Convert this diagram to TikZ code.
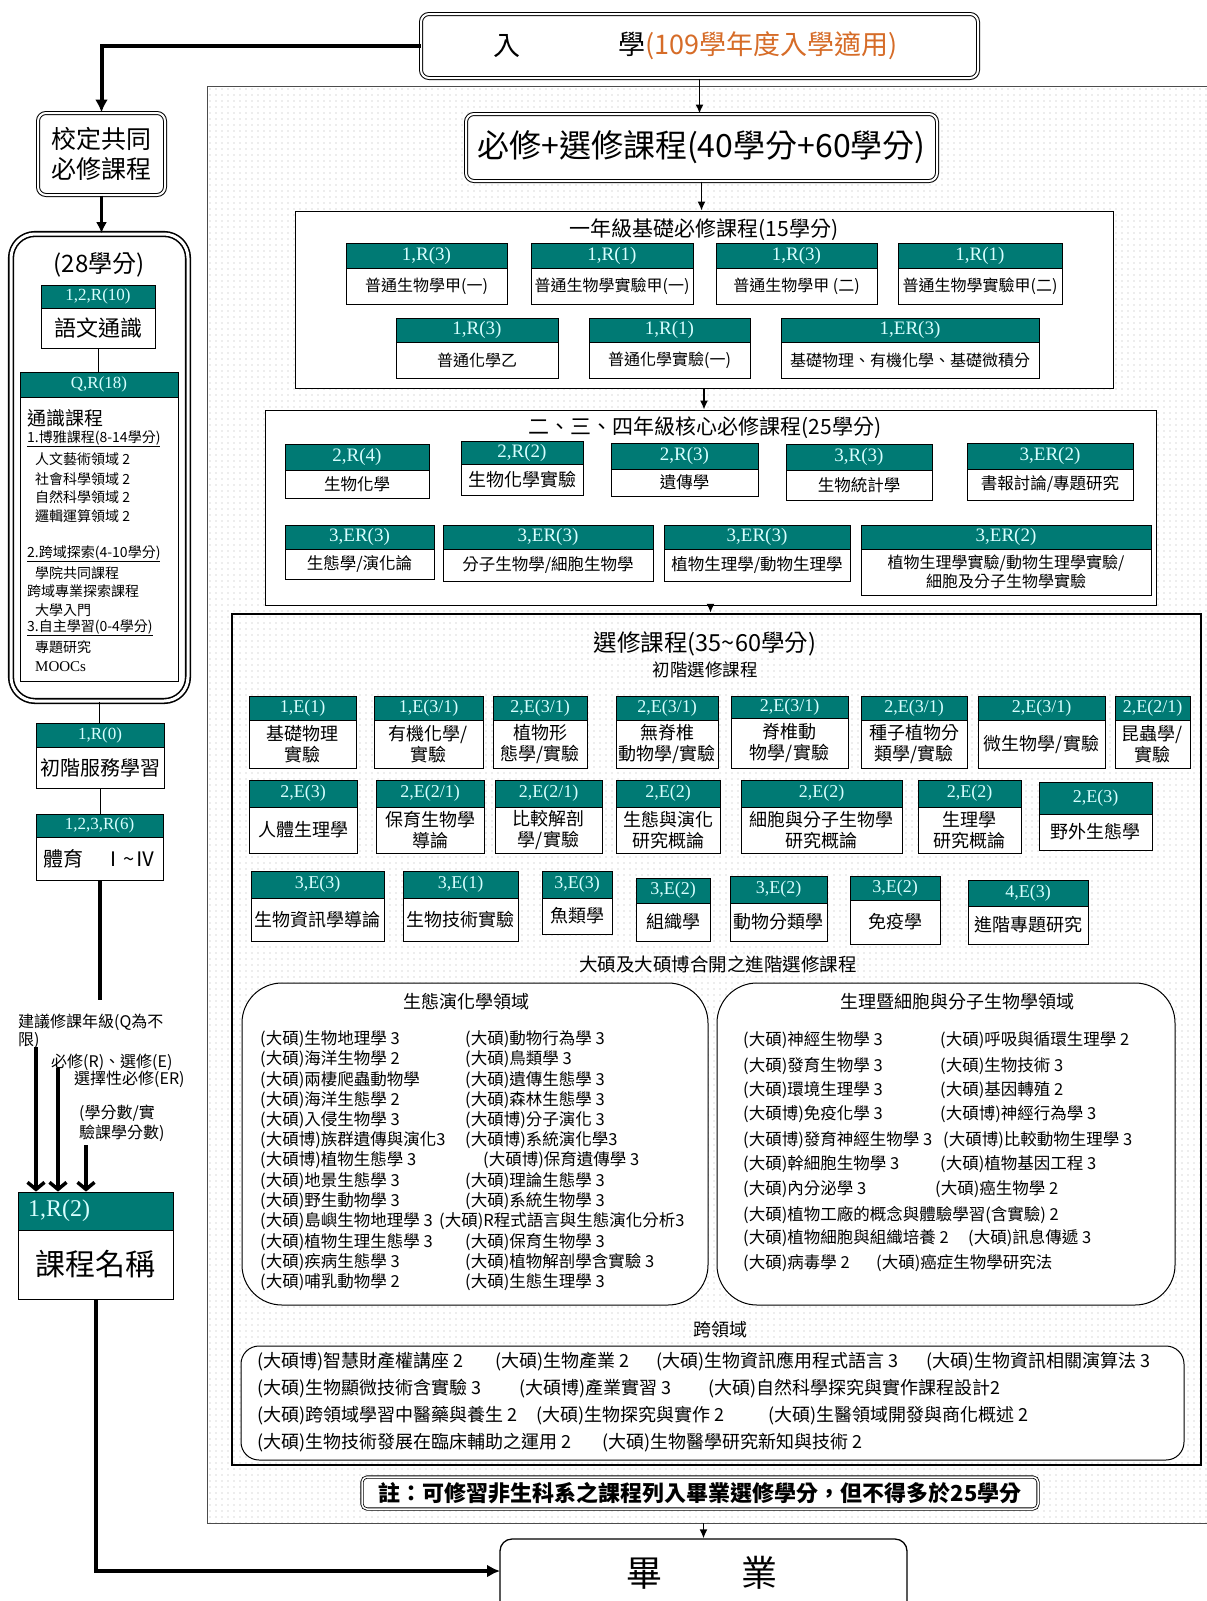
\documentclass[tikz,border=0pt]{standalone}
\usepackage{fontspec}
\setmainfont{Noto Sans CJK TC}
\newfontfamily\tnr{Liberation Serif}
\usetikzlibrary{arrows.meta,patterns.meta}
\definecolor{tealh}{RGB}{0,122,116}
\definecolor{htext}{RGB}{215,255,255}
\definecolor{orng}{RGB}{214,108,40}
\newcommand\fs[1]{\fontsize{#1}{\fpeval{1.2*#1}}\selectfont}
\newcommand\mkrect[7]{\node[#1,minimum width={#5-#3},minimum height={#6-#4}] (#2) at ({(#3+#5)/2},{(#4+#6)/2}) {#7};}
\newcommand\mkcourse[9]{%
  \mkrect{hdr}{#1h}{#2}{#3}{#4}{#5}{#7}
  \mkrect{bodyst,font=\fs{#9}}{#1b}{#2}{#5}{#4}{#6}{#8}}
\def\hsz{19}
\tikzset{
  hdr/.style={draw=black,fill=tealh,text=htext,inner sep=0pt,font=\tnr\fs{\hsz},line width=0.8pt},
  bodyst/.style={draw=black,fill=white,inner sep=0pt,align=center,line width=0.8pt},
  rbox/.style={draw=black,fill=white,inner sep=0pt,line width=0.9pt},
  dblbox/.style={draw=black,double=white,double distance=2pt,line width=1pt,rounded corners=8pt,fill=white,inner sep=0pt},
  panelst/.style={draw=black!70,line width=0.8pt,inner sep=0pt,pattern={Dots[distance=6pt,radius=0.55pt]},pattern color=black!30},
  elst/.style={draw=black,line width=2.5pt,inner sep=0pt},
  domst/.style={draw=black,line width=1pt,rounded corners=40pt,fill=white,inner sep=0pt},
  crst/.style={draw=black,line width=1pt,rounded corners=18pt,fill=white,inner sep=0pt},
  ttl/.style={inner sep=0pt,font=\fs{21}},
  itm/.style={anchor=west,inner sep=0pt,font=\fs{16.5}},
  citm/.style={anchor=west,inner sep=0pt,font=\fs{18}},
  qs/.style={anchor=west,inner sep=0pt,font=\fs{14}},
  lg/.style={anchor=west,inner sep=0pt,font=\fs{16}},
  arr/.style={line width=1.5pt,-{Latex[length=9pt,width=8pt]}},
  tl/.style={line width=4pt},
  tarr/.style={line width=4pt,-{Latex[length=13pt,width=13pt]}},
  larr/.style={line width=3.5pt,-{Straight Barb[length=7pt,width=17pt]}},
  thin/.style={line width=0.9pt}
}
\begin{document}
\begin{tikzpicture}[x=1pt,y=-1pt]
\useasboundingbox (0,0) rectangle (1207,1601);
\fill[white] (0,0) rectangle (1207,1601);

% background panel
\mkrect{panelst}{panel}{207}{86}{1215}{1523}{}

% top
\mkrect{dblbox}{enter}{421}{14}{978}{78}{}
\node[font=\fs{27},inner sep=0pt] (enterA) at (507,46) {入};
\node[anchor=west,font=\fs{27},inner sep=0pt] (enterB) at (618,46) {學\textcolor{orng}{(109學年度入學適用)}};

\mkrect{dblbox,font=\fs{32}}{req}{466}{114}{937}{181}{必修+選修課程(40學分+60學分)}
\draw[arr] (enter.south) -- (enter.south |- req.north);

% first year
\mkrect{rbox}{fy}{295}{211}{1113}{388}{}
\node[ttl] (fyt) at (704,230) {一年級基礎必修課程(15學分)};
\draw[arr] (req.south) -- (req.south |- fy.north);
\mkcourse{fa}{346}{243}{507}{268}{304}{1,R(3)}{普通生物學甲(一)}{16}
\mkcourse{fb}{531}{243}{693}{268}{304}{1,R(1)}{普通生物學實驗甲(一)}{16}
\mkcourse{fc}{716}{243}{877}{268}{304}{1,R(3)}{普通生物學甲 (二)}{16}
\mkcourse{fd}{898}{243}{1062}{268}{304}{1,R(1)}{普通生物學實驗甲(二)}{16}
\mkcourse{fe}{396}{318}{558}{342}{378}{1,R(3)}{普通化學乙}{16}
\mkcourse{ff}{589}{318}{750}{342}{378}{1,R(1)}{普通化學實驗(一)}{16}
\mkcourse{fg}{781}{318}{1039}{342}{378}{1,ER(3)}{基礎物理、有機化學、基礎微積分}{16}

% core
\mkrect{rbox}{core}{265}{410}{1156}{605}{}
\node[ttl] (coret) at (705,428) {二、三、四年級核心必修課程(25學分)};
\draw[arr] (fy.south) -- (fy.south |- core.north);
\mkcourse{ca}{285}{444}{429}{470}{498}{2,R(4)}{生物化學}{16.5}
\mkcourse{cb}{461}{441}{583}{464}{495}{2,R(2)}{生物化學實驗}{18}
\mkcourse{cc}{611}{443}{758}{469}{496}{2,R(3)}{遺傳學}{16.5}
\mkcourse{cd}{786}{444}{932}{470}{500}{3,R(3)}{生物統計學}{16.5}
\mkcourse{ce}{967}{443}{1133}{469}{500}{3,ER(2)}{書報討論/專題研究}{16.5}
\mkcourse{cf}{285}{525}{434}{549}{579}{3,ER(3)}{生態學/演化論}{16.5}
\mkcourse{cg}{443}{525}{653}{549}{581}{3,ER(3)}{分子生物學/細胞生物學}{16.5}
\mkcourse{ch}{664}{525}{850}{549}{581}{3,ER(3)}{植物生理學/動物生理學}{16.5}
\mkcourse{ci}{861}{525}{1151}{549}{595}{3,ER(2)}{植物生理學實驗/動物生理學實驗/\\細胞及分子生物學實驗}{16}

% electives
\mkrect{elst}{elec}{232}{614}{1201}{1465}{}
\draw[arr] (core.south) -- (core.south |- elec.north);
\node[inner sep=0pt,font=\fs{23.5}] (elt) at (705,644) {選修課程(35\textasciitilde60學分)};
\node[inner sep=0pt,font=\fs{17.5}] (elt2) at (705,670) {初階選修課程};
\def\hsz{18}
\mkcourse{ea}{249}{696}{356}{720}{768}{1,E(1)}{基礎物理\\實驗}{18}
\mkcourse{eb}{374}{696}{483}{720}{768}{1,E(3/1)}{有機化學/\\實驗}{18}
\mkcourse{ec}{493}{696}{587}{720}{768}{2,E(3/1)}{植物形\\態學/實驗}{18}
\mkcourse{ed}{616}{696}{718}{720}{768}{2,E(3/1)}{無脊椎\\動物學/實驗}{18}
\mkcourse{ee}{731}{696}{848}{718}{768}{2,E(3/1)}{脊椎動\\物學/實驗}{18}
\mkcourse{ef}{861}{696}{967}{720}{768}{2,E(3/1)}{種子植物分\\類學/實驗}{18}
\mkcourse{eg}{978}{696}{1105}{720}{768}{2,E(3/1)}{微生物學/實驗}{18}
\mkcourse{eh}{1115}{696}{1190}{720}{768}{2,E(2/1)}{昆蟲學/\\實驗}{18}
\mkcourse{ei}{249}{780}{357}{807}{853}{2,E(3)}{人體生理學}{18}
\mkcourse{ej}{376}{780}{484}{807}{853}{2,E(2/1)}{保育生物學\\導論}{18}
\mkcourse{ek}{495}{780}{602}{807}{853}{2,E(2/1)}{比較解剖\\學/實驗}{18}
\mkcourse{el}{616}{780}{720}{807}{853}{2,E(2)}{生態與演化\\研究概論}{18}
\mkcourse{em}{741}{780}{902}{807}{853}{2,E(2)}{細胞與分子生物學\\研究概論}{18}
\mkcourse{en}{918}{780}{1021}{807}{853}{2,E(2)}{生理學\\研究概論}{18}
\mkcourse{eo}{1039}{782}{1152}{814}{850}{2,E(3)}{野外生態學}{18}
\mkcourse{ep}{251}{871}{384}{898}{941}{3,E(3)}{生物資訊學導論}{18}
\mkcourse{eq}{403}{871}{518}{898}{941}{3,E(1)}{生物技術實驗}{18}
\mkcourse{er}{542}{871}{612}{898}{934}{3,E(3)}{魚類學}{18}
\mkcourse{es}{636}{878}{710}{903}{941}{3,E(2)}{組織學}{18}
\mkcourse{et}{730}{876}{827}{903}{941}{3,E(2)}{動物分類學}{18}
\mkcourse{eu}{850}{876}{940}{900}{944}{3,E(2)}{免疫學}{18}
\mkcourse{ev}{968}{880}{1088}{906}{944}{4,E(3)}{進階專題研究}{18}
\node[inner sep=0pt,font=\fs{18.5}] (adv) at (718,964) {大碩及大碩博合開之進階選修課程};

% ecology domain
\mkrect{domst}{eco}{242}{983}{708}{1305}{}
\node[inner sep=0pt,font=\fs{18}] (ecot) at (466,1002) {生態演化學領域};
\node[itm] (ea1) at (260,1039) {(大碩)生物地理學 3};
\node[itm] (ea2) at (260,1059) {(大碩)海洋生物學 2};
\node[itm] (ea3) at (260,1080) {(大碩)兩棲爬蟲動物學};
\node[itm] (ea4) at (260,1100) {(大碩)海洋生態學 2};
\node[itm] (ea5) at (260,1120) {(大碩)入侵生物學 3};
\node[itm] (ea6) at (260,1140) {(大碩博)族群遺傳與演化3};
\node[itm] (ea7) at (260,1160) {(大碩博)植物生態學 3};
\node[itm] (ea8) at (260,1181) {(大碩)地景生態學 3};
\node[itm] (ea9) at (260,1201) {(大碩)野生動物學 3};
\node[itm] (ea10) at (260,1221) {(大碩)島嶼生物地理學 3};
\node[itm] (ea11) at (260,1242) {(大碩)植物生理生態學 3};
\node[itm] (ea12) at (260,1262) {(大碩)疾病生態學 3};
\node[itm] (ea13) at (260,1282) {(大碩)哺乳動物學 2};
\node[itm] (eb1) at (465,1039) {(大碩)動物行為學 3};
\node[itm] (eb2) at (465,1059) {(大碩)鳥類學 3};
\node[itm] (eb3) at (465,1080) {(大碩)遺傳生態學 3};
\node[itm] (eb4) at (465,1100) {(大碩)森林生態學 3};
\node[itm] (eb5) at (465,1120) {(大碩博)分子演化 3};
\node[itm] (eb6) at (465,1140) {(大碩博)系統演化學3};
\node[itm] (eb7) at (483,1160) {(大碩博)保育遺傳學 3};
\node[itm] (eb8) at (465,1181) {(大碩)理論生態學 3};
\node[itm] (eb9) at (465,1201) {(大碩)系統生物學 3};
\node[itm] (eb10) at (439,1221) {(大碩)R程式語言與生態演化分析3};
\node[itm] (eb11) at (465,1242) {(大碩)保育生物學 3};
\node[itm] (eb12) at (465,1262) {(大碩)植物解剖學含實驗 3};
\node[itm] (eb13) at (465,1282) {(大碩)生態生理學 3};

% physiology domain
\mkrect{domst}{phy}{717}{983}{1175}{1305}{}
\node[inner sep=0pt,font=\fs{18}] (phyt) at (957,1002) {生理暨細胞與分子生物學領域};
\node[itm] (pa1) at (743,1040) {(大碩)神經生物學 3};
\node[itm] (pa2) at (743,1066) {(大碩)發育生物學 3};
\node[itm] (pa3) at (743,1090) {(大碩)環境生理學 3};
\node[itm] (pa4) at (743,1114) {(大碩博)免疫化學 3};
\node[itm] (pa5) at (743,1140) {(大碩博)發育神經生物學 3};
\node[itm] (pa6) at (743,1164) {(大碩)幹細胞生物學 3};
\node[itm] (pa7) at (743,1189) {(大碩)內分泌學 3};
\node[itm] (pa8) at (743,1215) {(大碩)植物工廠的概念與體驗學習(含實驗) 2};
\node[itm] (pa9) at (743,1238) {(大碩)植物細胞與組織培養 2};
\node[itm] (pa10) at (743,1263) {(大碩)病毒學 2};
\node[itm] (pb1) at (940,1040) {(大碩)呼吸與循環生理學 2};
\node[itm] (pb2) at (940,1066) {(大碩)生物技術 3};
\node[itm] (pb3) at (940,1090) {(大碩)基因轉殖 2};
\node[itm] (pb4) at (940,1114) {(大碩博)神經行為學 3};
\node[itm] (pb5) at (943,1140) {(大碩博)比較動物生理學 3};
\node[itm] (pb6) at (940,1164) {(大碩)植物基因工程 3};
\node[itm] (pb7) at (935,1189) {(大碩)癌生物學 2};
\node[itm] (pb9) at (968,1238) {(大碩)訊息傳遞 3};
\node[itm] (pb10) at (876,1263) {(大碩)癌症生物學研究法};

% cross domain
\node[inner sep=0pt,font=\fs{18}] (crt) at (720,1330) {跨領域};
\mkrect{crst}{cross}{241}{1346}{1184}{1460}{}
\node[citm] (x1) at (257,1362) {(大碩博)智慧財產權講座 2};
\node[citm] (x2) at (495,1362) {(大碩)生物產業 2};
\node[citm] (x3) at (656,1362) {(大碩)生物資訊應用程式語言 3};
\node[citm] (x4) at (926,1362) {(大碩)生物資訊相關演算法 3};
\node[citm] (x5) at (257,1389) {(大碩)生物顯微技術含實驗 3};
\node[citm] (x6) at (519,1389) {(大碩博)產業實習 3};
\node[citm] (x7) at (708,1389) {(大碩)自然科學探究與實作課程設計2};
\node[citm] (x8) at (257,1416) {(大碩)跨領域學習中醫藥與養生 2};
\node[citm] (x9) at (536,1416) {(大碩)生物探究與實作 2};
\node[citm] (x10) at (768,1416) {(大碩)生醫領域開發與商化概述 2};
\node[citm] (x11) at (257,1443) {(大碩)生物技術發展在臨床輔助之運用 2};
\node[citm] (x12) at (602,1443) {(大碩)生物醫學研究新知與技術 2};

% note
\mkrect{dblbox,rounded corners=5pt,double distance=1.5pt,line width=0.8pt,font=\fs{22}\bfseries}{note}{362}{1477}{1038}{1509}{註：可修習非生科系之課程列入畢業選修學分，但不得多於25學分}

% graduation
\mkrect{rbox,rounded corners=12pt,line width=1.3pt}{grad}{500}{1539}{907}{1640}{}
\node[inner sep=0pt,font=\fs{36}] (gradt) at (702,1573) {畢\hspace{80pt}業};
\draw[arr] (grad.north |- panel.south) -- (grad.north);

% left column
\def\hsz{17}
\mkrect{dblbox,font=\fs{25},align=center}{sch}{38}{113}{165}{195}{校定共同\\必修課程}
\draw[tarr] (enter.west) -| (sch.north);
\mkrect{dblbox,line width=1.6pt,double distance=3pt,rounded corners=24pt}{c28}{11}{234}{188}{701}{}
\draw[line width=3pt,-{Latex[length=11pt,width=11pt]}] (sch.south) -- (sch.south |- c28.north);
\node[inner sep=0pt,font=\fs{24}] (c28t) at (99,265) {(28學分)};
\mkcourse{ya}{41}{285}{155}{308}{348}{1,2,R(10)}{語文通識}{22}
\mkcourse{yb}{20}{372}{178}{397}{681}{Q,R(18)}{}{14}
\draw[thin] (yab.south) -- (yab.south |- ybh.north);
\node[qs,font=\fs{19}] (q0) at (27,418) {通識課程};
\node[qs] (q1) at (27,439) {\underline{1.博雅課程(8-14學分)}};
\node[qs] (q2) at (35,459) {人文藝術領域 2};
\node[qs] (q3) at (35,479) {社會科學領域 2};
\node[qs] (q4) at (35,497) {自然科學領域 2};
\node[qs] (q5) at (35,516) {邏輯運算領域 2};
\node[qs] (q6) at (27,554) {\underline{2.跨域探索(4-10學分)}};
\node[qs] (q7) at (35,573) {學院共同課程};
\node[qs] (q8) at (27,591) {跨域專業探索課程};
\node[qs] (q9) at (35,610) {大學入門};
\node[qs] (q10) at (27,628) {\underline{3.自主學習(0-4學分)}};
\node[qs] (q11) at (35,647) {專題研究};
\node[qs,font=\tnr\fs{15}] (q12) at (35,667) {MOOCs};

\mkcourse{ia}{36}{723}{164}{747}{788}{1,R(0)}{初階服務學習}{20}
\draw[thin] (c28.south) -- (c28.south |- iah.north);
\mkcourse{pe}{36}{814}{163}{837}{880}{1,2,3,R(6)}{體育\quad Ⅰ\textasciitilde Ⅳ}{20}
\draw[thin] (iab.south) -- (iab.south |- peh.north);
\coordinate (peend) at (99,1000);
\draw[tl] (peb.south) -- (peb.south |- peend);

% legend
\node[lg] (lg1) at (18,1022) {建議修課年級(Q為不};
\node[lg] (lg1b) at (18,1041) {限)};
\node[lg] (lg2) at (51,1062) {必修(R)、選修(E)};
\node[lg] (lg2b) at (74,1079) {選擇性必修(ER)};
\node[lg] (lg3) at (79,1113) {(學分數/實};
\node[lg] (lg3b) at (79,1133) {驗課學分數)};

\mkrect{hdr}{kch}{18}{1192}{173}{1230}{}
\node[anchor=west,inner sep=0pt,text=htext,font=\tnr\fs{24}] (kchl) at (28,1211) {1,R(2)};
\mkrect{bodyst,font=\fs{30}}{kchb}{18}{1230}{173}{1299}{課程名稱}
\coordinate (la1) at (36,1047);
\coordinate (la2) at (58,1068);
\coordinate (la3) at (86,1145);
\draw[larr] (la1) -- (la1 |- kch.north);
\draw[larr] (la2) -- (la2 |- kch.north);
\draw[larr] (la3) -- (la3 |- kch.north);

\coordinate (gl) at (500,1571);
\draw[tarr] (kchb.south) |- (gl);
\end{tikzpicture}
\end{document}
